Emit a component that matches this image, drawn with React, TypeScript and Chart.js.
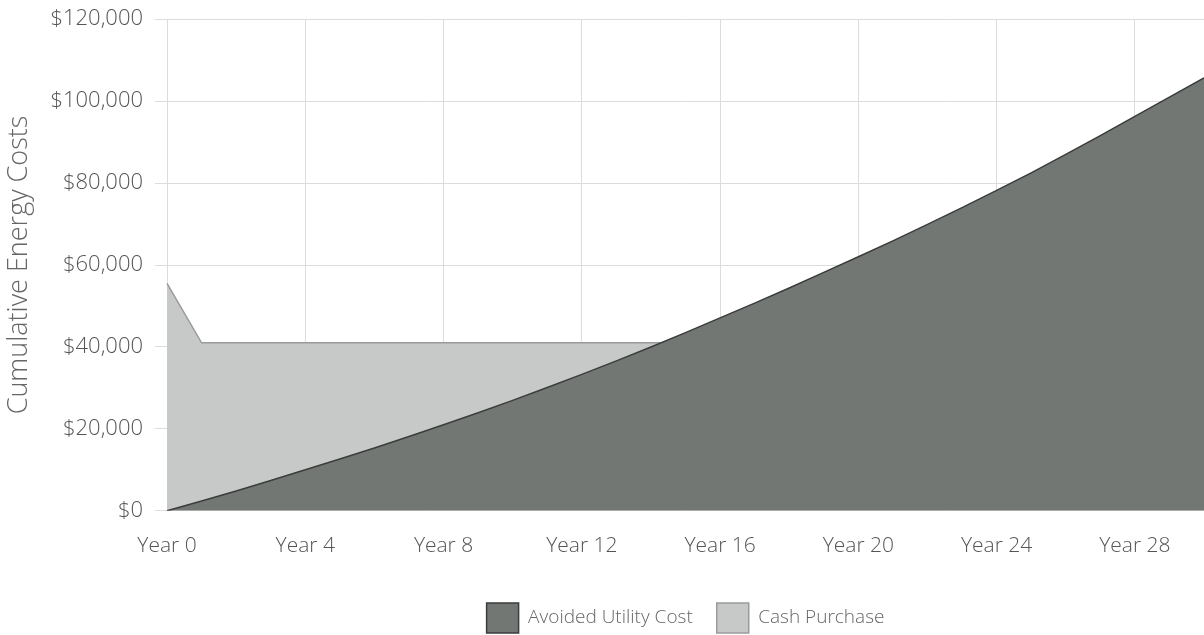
import { useEffect, useRef } from 'react'
import { Chart, registerables } from 'chart.js'

Chart.register(...registerables)

const years = Array.from({ length: 31 }, (_, i) => `Year ${i}`)

const avoidedUtilityCost = [
  0, 2400, 4850, 7400, 10000, 12650, 15350, 18150, 21000, 23950, 26950, 30100, 33300, 36600,
  40000, 43500, 47100, 50700, 54400, 58200, 62000, 65900, 69900, 74000, 78200, 82500, 87000,
  91600, 96300, 101000, 105700,
]

const cashPurchase = [
  55500, 41000, 41000, 41000, 41000, 41000, 41000, 41000, 41000, 41000, 41000, 41000, 41000,
  41000, 41000, 41000, 41000, 41000, 41000, 41000, 41000, 41000, 41000, 41000, 41000, 41000,
  41000, 41000, 41000, 41000, 41000,
]

const FONT = '"Open Sans", sans-serif'
const GRID = '#dcdcdc'

export default function App() {
  const canvasRef = useRef<HTMLCanvasElement>(null)
  const chartRef = useRef<Chart | null>(null)

  useEffect(() => {
    document.body.style.margin = '0'
    if (!canvasRef.current) return
    chartRef.current?.destroy()
    chartRef.current = new Chart(canvasRef.current, {
      type: 'line',
      data: {
        labels: years,
        datasets: [
          {
            label: 'Avoided Utility Cost',
            data: avoidedUtilityCost,
            backgroundColor: '#727773',
            borderColor: '#3a3d3b',
            borderWidth: 1.5,
            fill: 'origin',
            pointRadius: 0,
            tension: 0,
          },
          {
            label: 'Cash Purchase',
            data: cashPurchase,
            backgroundColor: '#c7c9c8',
            borderColor: '#999c9a',
            borderWidth: 1.5,
            fill: 'origin',
            pointRadius: 0,
            tension: 0,
          },
        ],
      },
      options: {
        responsive: true,
        maintainAspectRatio: false,
        animation: false,
        layout: { padding: { top: 0, right: 0, left: 0, bottom: 0 } },
        plugins: {
          tooltip: { enabled: false },
          legend: {
            position: 'bottom',
            fullSize: false,
            labels: {
              boxWidth: 32,
              boxHeight: 30,
              padding: 24,
              color: '#666',
              font: { family: FONT, size: 19, weight: 300 },
            },
          },
        },
        scales: {
          x: {
            border: { display: false },
            grid: {
              color: (c) => (c.index % 4 === 0 ? GRID : 'transparent'),
              tickColor: 'transparent',
              tickLength: 23,
            },
            ticks: {
              autoSkip: false,
              maxRotation: 0,
              padding: 0,
              color: '#555',
              font: { family: FONT, size: 21, weight: 300 },
              callback: (_v, i) => (i % 4 === 0 ? years[i] : ''),
            },
            // extra gap between the year labels and the legend
            afterFit: (scale) => {
              scale.height += 20
            },
          },
          y: {
            min: 0,
            max: 120000,
            border: { display: false },
            grid: { color: GRID, tickLength: 12 },
            ticks: {
              stepSize: 20000,
              padding: 12,
              color: '#555',
              font: { family: FONT, size: 22, weight: 300 },
              callback: (v) => '$' + Number(v).toLocaleString('en-US'),
            },
            title: {
              display: true,
              text: 'Cumulative Energy Costs',
              color: '#666',
              font: { family: FONT, size: 27, weight: 300 },
              padding: { top: 3, bottom: 3 },
            },
          },
        },
      },
    })
    return () => {
      chartRef.current?.destroy()
      chartRef.current = null
    }
  }, [])

  return (
    <div style={{ position: 'relative', width: 1204, height: 635, overflow: 'hidden' }}>
      <div style={{ position: 'absolute', left: 0, top: -6, width: 1204, height: 649 }}>
        <canvas ref={canvasRef} />
      </div>
    </div>
  )
}
